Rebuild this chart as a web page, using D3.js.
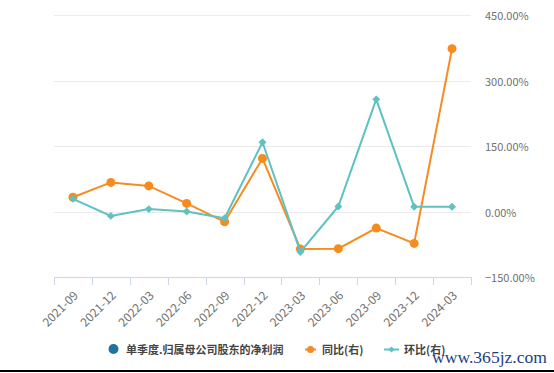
<!DOCTYPE html>
<html><head><meta charset="utf-8">
<script src="https://cdn.jsdelivr.net/npm/d3@7"></script>
<style>
html,body{margin:0;padding:0;background:#fff;}
svg{display:block;font-family:"Noto Sans CJK SC","Noto Sans",sans-serif;}
</style></head>
<body>
<svg id="chart" width="554" height="373"></svg>
<script>
const categories = ["2021-09","2021-12","2022-03","2022-06","2022-09","2022-12","2023-03","2023-06","2023-09","2023-12","2024-03"];
const yoyValues = [33, 67, 59, 19, -23, 122, -85, -84.5, -37.5, -72.5, 373];
const qoqValues = [29.5, -9.5, 6, 0.5, -15, 159, -92, 12, 257, 11.5, 11.5];
const yTicks = [-150, 0, 150, 300, 450];
const legendNames = ["单季度.归属母公司股东的净利润", "同比(右)", "环比(右)"];
const watermark = "www.365jz.com";

(function () {
const svg = d3.select("#chart");
const W = 554;
const pL = 54, pR = 471, pT = 15, pB = 277.3;
const orange = "#f68b1f", teal = "#5fc1c1", blue = "#21729f";

const x = d3.scaleBand().domain(categories).range([pL, pR]).padding(0);
const y = d3.scaleLinear().domain([-150, 450]).range([pB, pT]);
const cx = d => x(d) + x.bandwidth() / 2;

// gridlines
svg.append("g").selectAll("line").data(yTicks.filter(t => t > -150)).join("line")
  .attr("x1", pL).attr("x2", pR)
  .attr("y1", d => Math.round(y(d)) + 0.5).attr("y2", d => Math.round(y(d)) + 0.5)
  .attr("stroke", "#ebebeb").attr("stroke-width", 1);

// y labels (right)
svg.append("g").selectAll("text").data(yTicks).join("text")
  .attr("x", 485).attr("y", d => y(d))
  .attr("dominant-baseline", "central")
  .attr("font-size", 11).attr("fill", "#707070")
  .text(d => d3.format(".2f")(d) + "%");

// x axis
const xAxis = svg.append("g");
xAxis.append("line").attr("x1", pL).attr("x2", pR)
  .attr("y1", Math.round(pB) + 0.5).attr("y2", Math.round(pB) + 0.5)
  .attr("stroke", "#ccd6eb");
const bounds = categories.map(c => x(c)).concat([x(categories[categories.length - 1]) + x.bandwidth()]);
xAxis.selectAll("line.tick").data(bounds).join("line").attr("class", "tick")
  .attr("x1", d => Math.round(d) + 0.5).attr("x2", d => Math.round(d) + 0.5)
  .attr("y1", Math.round(pB)).attr("y2", Math.round(pB) + 8)
  .attr("stroke", "#ccd6eb");
xAxis.selectAll("text").data(categories).join("text")
  .attr("transform", d => `translate(${cx(d) + 2},${pB + 15}) rotate(-45)`)
  .attr("text-anchor", "end").attr("dominant-baseline", "central")
  .attr("font-size", 12).attr("fill", "#707070")
  .text(d => d);

// lines
const line = d3.line().x((d, i) => cx(categories[i])).y(d => y(d));
svg.append("path").attr("d", line(yoyValues)).attr("fill", "none")
  .attr("stroke", orange).attr("stroke-width", 2);
svg.append("g").selectAll("circle").data(yoyValues).join("circle")
  .attr("cx", (d, i) => cx(categories[i])).attr("cy", d => y(d)).attr("r", 4.5)
  .attr("fill", orange);

svg.append("path").attr("d", line(qoqValues)).attr("fill", "none")
  .attr("stroke", teal).attr("stroke-width", 2);
const diamond = d3.symbol().type(d3.symbolDiamond2).size(40);
svg.append("g").selectAll("path").data(qoqValues).join("path")
  .attr("transform", (d, i) => `translate(${cx(categories[i])},${y(d)})`)
  .attr("d", diamond).attr("fill", teal);

// legend
const lg = svg.append("g").attr("font-size", 11).attr("font-weight", "bold").attr("fill", "#444");
lg.append("circle").attr("cx", 113.5).attr("cy", 349).attr("r", 5).attr("fill", blue);
lg.append("text").attr("x", 126).attr("y", 349).attr("dominant-baseline", "central").text(legendNames[0]);
lg.append("line").attr("x1", 305).attr("x2", 316).attr("y1", 349.5).attr("y2", 349.5).attr("stroke", orange).attr("stroke-width", 2);
lg.append("circle").attr("cx", 310.5).attr("cy", 349.5).attr("r", 3.5).attr("fill", orange);
lg.append("text").attr("x", 322).attr("y", 349).attr("dominant-baseline", "central").text(legendNames[1]);
lg.append("line").attr("x1", 384).attr("x2", 399).attr("y1", 349.5).attr("y2", 349.5).attr("stroke", teal).attr("stroke-width", 2);
lg.append("path").attr("transform", "translate(391.5,349.5)").attr("d", d3.symbol().type(d3.symbolDiamond2).size(24)).attr("fill", teal);
lg.append("text").attr("x", 404).attr("y", 349).attr("dominant-baseline", "central").text(legendNames[2]);

// watermark
svg.append("text").attr("x", 432).attr("y", 363)
  .attr("font-family", "'Liberation Serif','DejaVu Serif',serif")
  .attr("font-size", 17).attr("fill", "#1a3f86")
  .attr("textLength", 115).attr("lengthAdjust", "spacingAndGlyphs")
  .text(watermark);

// bottom border
svg.append("rect").attr("x", 0).attr("y", 370).attr("width", W).attr("height", 2).attr("fill", "#000");
})();
</script>
</body></html>
